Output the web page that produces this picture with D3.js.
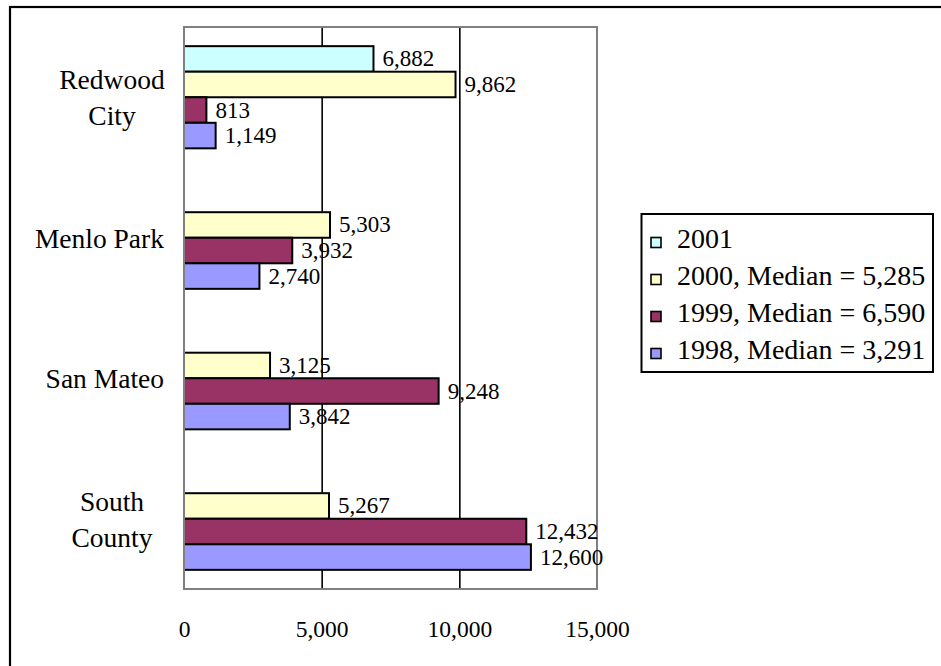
<!DOCTYPE html>
<html>
<head>
<meta charset="utf-8">
<script src="https://cdn.jsdelivr.net/npm/d3@7/dist/d3.min.js"></script>
<style>
  html, body { margin: 0; padding: 0; background: #fff; }
  svg { display: block; }
  text { font-family: "Liberation Serif", "Times New Roman", Times, serif; fill: #000; }
</style>
</head>
<body>
<svg id="chart" width="941" height="666"></svg>
<script>
// Categories (top to bottom) and their wrapped label lines
const categories = ["Redwood City", "Menlo Park", "San Mateo", "South County"];
const categoryLines = [["Redwood", "City"], ["Menlo Park"], ["San Mateo"], ["South", "County"]];

// Series, drawn top to bottom inside each category group
const seriesNames = ["2001", "2000, Median = 5,285", "1999, Median = 6,590", "1998, Median = 3,291"];
const values2001 = [6882, null, null, null];
const values2000 = [9862, 5303, 3125, 5267];
const values1999 = [813, 3932, 9248, 12432];
const values1998 = [1149, 2740, 3842, 12600];
const seriesColors = ["#CCFFFF", "#FFFFCC", "#993366", "#9999FF"];

// Value axis ticks
const xTicks = [0, 5000, 10000, 15000];

const seriesValues = [values2001, values2000, values1999, values1998];
const rows = [];
seriesValues.forEach((vals, si) => {
  vals.forEach((v, ci) => {
    if (v !== null) rows.push({ series: seriesNames[si], si, category: categories[ci], value: v });
  });
});

const svg = d3.select("#chart");
const fmt = d3.format(",");

// Outer chart frame (runs off the right and bottom edges)
svg.append("rect")
  .attr("x", 10).attr("y", 7)
  .attr("width", 1000).attr("height", 700)
  .attr("fill", "none").attr("stroke", "#000").attr("stroke-width", 2.2);

const plot = { left: 184, right: 597, top: 27, bottom: 589 };

const x = d3.scaleLinear().domain([0, 15000]).range([plot.left, plot.right]);
const gap = 1.5; // gap width as a fraction of one bar
const y = d3.scaleBand()
  .domain(categories)
  .range([plot.top, plot.bottom])
  .paddingInner(gap / (seriesNames.length + gap))
  .paddingOuter(gap / 2 / (seriesNames.length + gap));
const ySeries = d3.scaleBand().domain(seriesNames).range([0, y.bandwidth()]);

// Vertical gridlines
svg.append("g")
  .attr("transform", `translate(0,${plot.top})`)
  .call(d3.axisBottom(x).tickValues(xTicks.slice(1, -1)).tickSize(plot.bottom - plot.top).tickFormat(""))
  .call(g => g.select(".domain").remove())
  .call(g => g.selectAll("line").attr("stroke", "#000").attr("stroke-width", 1.6));

// Bars
svg.append("g").selectAll("rect")
  .data(rows)
  .join("rect")
  .attr("x", x(0))
  .attr("y", d => y(d.category) + ySeries(d.series))
  .attr("width", d => x(d.value) - x(0))
  .attr("height", ySeries.bandwidth())
  .attr("fill", d => seriesColors[d.si])
  .attr("stroke", "#000")
  .attr("stroke-width", 2);

// Plot area border
svg.append("rect")
  .attr("x", plot.left).attr("y", plot.top)
  .attr("width", plot.right - plot.left).attr("height", plot.bottom - plot.top)
  .attr("fill", "none").attr("stroke", "#808080").attr("stroke-width", 2);

// Data labels
svg.append("g").selectAll("text")
  .data(rows)
  .join("text")
  .attr("x", d => x(d.value) + 9)
  .attr("y", d => y(d.category) + ySeries(d.series) + ySeries.bandwidth() / 2)
  .attr("dominant-baseline", "central")
  .attr("font-size", 23)
  .text(d => fmt(d.value));

// Value axis labels
svg.append("g")
  .attr("transform", `translate(0,${plot.bottom})`)
  .call(d3.axisBottom(x).tickValues(xTicks).tickSize(0).tickPadding(31).tickFormat(fmt))
  .call(g => g.select(".domain").remove())
  .call(g => g.selectAll("text")
    .attr("font-family", "'Liberation Serif', 'Times New Roman', serif")
    .attr("font-size", 23.5).attr("fill", "#000"));

// Category labels
const lineHeight = 36;
const catG = svg.append("g");
categories.forEach((c, i) => {
  const lines = categoryLines[i];
  const cy = y(c) + y.bandwidth() / 2;
  const multi = lines.length > 1;
  const t = catG.append("text")
    .attr("font-size", 27.5)
    .attr("text-anchor", multi ? "middle" : "end")
    .attr("dominant-baseline", "central");
  lines.forEach((ln, k) => {
    t.append("tspan")
      .attr("x", multi ? 112 : 164)
      .attr("y", cy + (k - (lines.length - 1) / 2) * lineHeight)
      .text(ln);
  });
});

// Legend
const legend = svg.append("g");
legend.append("rect")
  .attr("x", 641.5).attr("y", 214)
  .attr("width", 291.5).attr("height", 158)
  .attr("fill", "#fff").attr("stroke", "#000").attr("stroke-width", 2);
const legendY = d3.scalePoint().domain(seriesNames).range([238, 349]);
seriesNames.forEach((s, i) => {
  const cy = legendY(s);
  legend.append("rect")
    .attr("x", 651).attr("y", cy - 0.5)
    .attr("width", 10).attr("height", 10)
    .attr("fill", seriesColors[i]).attr("stroke", "#000").attr("stroke-width", 1.6);
  legend.append("text")
    .attr("x", 677).attr("y", cy)
    .attr("dominant-baseline", "central")
    .attr("font-size", 28)
    .text(s);
});
</script>
</body>
</html>
